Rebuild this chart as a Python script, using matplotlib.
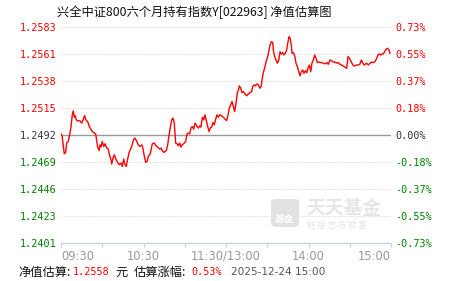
import numpy as np
import matplotlib.pyplot as plt
from matplotlib.patches import FancyBboxPatch

#%%
################################################
## DATA
################################################
base = 1.2492
# minutes after 09:30 (trading time, lunch break removed)
minutes = [
    0.0, 0.9, 1.7, 2.4, 3.4, 4.1, 5.3, 6.3, 7.3, 8.2, 8.9, 9.7, 10.4, 11.1, 12.1, 13.8,
    15.1, 16.2, 17.2, 18.0, 19.4, 20.6, 21.8, 22.8, 24.2, 25.2, 25.9, 26.7, 27.6, 28.4,
    29.1, 30.0, 31.1, 32.0, 33.2, 34.4, 35.4, 36.4, 36.9, 37.8, 38.8, 39.8, 41.2, 42.4,
    43.6, 44.6, 45.6, 46.5, 47.5, 48.5, 49.5, 50.4, 51.4, 52.9, 53.8, 55.1, 56.2, 57.5,
    58.7, 59.4, 60.4, 61.6, 62.5, 63.5, 64.9, 66.4, 67.9, 69.1, 70.3, 71.8, 72.7, 73.7,
    74.7, 75.6, 76.6, 77.6, 78.5, 79.5, 80.5, 81.5, 82.4, 83.4, 84.4, 85.3, 86.3, 87.3,
    88.2, 89.7, 90.7, 91.6, 92.6, 93.6, 94.5, 95.5, 96.5, 97.5, 98.7, 99.9, 100.9, 101.8,
    102.8, 103.8, 104.7, 105.7, 106.7, 107.6, 108.6, 109.6, 110.5, 111.5, 112.5, 113.5,
    114.4, 115.6, 116.9, 118.0, 119.3, 120.5, 121.5, 122.4, 123.4, 124.4, 125.3, 126.3,
    127.3, 128.2, 129.2, 129.7, 130.7, 131.6, 132.6, 133.8, 135.1, 136.2, 137.5, 138.7,
    139.4, 140.4, 141.3, 142.3, 143.5, 144.7, 145.7, 146.2, 147.1, 148.1, 149.1, 150.0,
    151.1, 152.0, 153.0, 154.0, 154.4, 155.4, 156.4, 157.3, 158.3, 159.3, 160.2, 161.2,
    162.2, 163.1, 164.1, 165.1, 165.8, 166.5, 167.5, 168.0, 169.0, 170.0, 170.9, 171.9,
    172.9, 173.8, 174.8, 175.8, 176.7, 177.7, 178.7, 179.6, 180.6, 181.6, 182.5, 183.5,
    184.5, 185.5, 186.4, 187.4, 188.4, 189.6, 190.8, 192.0, 193.2, 194.4, 195.6, 196.9,
    198.0, 199.3, 200.5, 201.7, 202.9, 204.1, 205.3, 206.5, 207.8, 208.7, 209.7, 210.7,
    211.6, 212.6, 213.8, 215.0, 216.2, 217.5, 218.4, 219.4, 220.4, 221.3, 222.3, 223.5,
    224.7, 226.0, 227.1, 228.4, 229.6, 230.5, 231.5, 232.5, 233.5, 234.4, 235.4, 236.4,
    237.3, 238.3, 239.3,
]
nav = [
    1.24931, 1.24908, 1.24824, 1.24763, 1.24774, 1.24853, 1.24866, 1.24923, 1.24992, 1.25091,
    1.25124, 1.25071, 1.25082, 1.25049, 1.25040, 1.25040, 1.25021, 1.25055, 1.25085, 1.25049,
    1.25034, 1.24992, 1.24970, 1.24950, 1.24937, 1.24931, 1.24880, 1.24819, 1.24790, 1.24838,
    1.24819, 1.24866, 1.24824, 1.24847, 1.24811, 1.24802, 1.24746, 1.24712, 1.24676, 1.24727,
    1.24754, 1.24718, 1.24690, 1.24670, 1.24685, 1.24656, 1.24718, 1.24670, 1.24656, 1.24718,
    1.24774, 1.24796, 1.24824, 1.24886, 1.24895, 1.24866, 1.24838, 1.24824, 1.24838, 1.24819,
    1.24754, 1.24690, 1.24698, 1.24740, 1.24763, 1.24847, 1.24853, 1.24830, 1.24819, 1.24802,
    1.24811, 1.24790, 1.24774, 1.24782, 1.24790, 1.24838, 1.24914, 1.24979, 1.25049, 1.25063,
    1.25021, 1.24853, 1.24847, 1.24830, 1.24853, 1.24819, 1.24838, 1.24853, 1.24866, 1.24931,
    1.24937, 1.24931, 1.24979, 1.24992, 1.24970, 1.25021, 1.24998, 1.24979, 1.24998, 1.24987,
    1.25071, 1.25049, 1.25091, 1.25043, 1.24992, 1.24950, 1.24979, 1.24987, 1.25026, 1.25007,
    1.25055, 1.25091, 1.25071, 1.25091, 1.25082, 1.25071, 1.25055, 1.25043, 1.25091, 1.25147,
    1.25175, 1.25203, 1.25161, 1.25118, 1.25189, 1.25273, 1.25307, 1.25335, 1.25315, 1.25278,
    1.25287, 1.25267, 1.25251, 1.25267, 1.25278, 1.25287, 1.25329, 1.25343, 1.25335, 1.25351,
    1.25343, 1.25315, 1.25335, 1.25385, 1.25446, 1.25483, 1.25539, 1.25568, 1.25623, 1.25679,
    1.25707, 1.25699, 1.25637, 1.25581, 1.25553, 1.25526, 1.25547, 1.25623, 1.25604, 1.25615,
    1.25595, 1.25610, 1.25637, 1.25707, 1.25749, 1.25744, 1.25679, 1.25610, 1.25615, 1.25587,
    1.25526, 1.25497, 1.25455, 1.25419, 1.25455, 1.25469, 1.25441, 1.25463, 1.25446, 1.25483,
    1.25511, 1.25455, 1.25526, 1.25553, 1.25595, 1.25568, 1.25531, 1.25536, 1.25534, 1.25531,
    1.25526, 1.25520, 1.25531, 1.25517, 1.25553, 1.25545, 1.25536, 1.25534, 1.25526, 1.25531,
    1.25517, 1.25509, 1.25503, 1.25492, 1.25483, 1.25581, 1.25568, 1.25547, 1.25526, 1.25505,
    1.25503, 1.25511, 1.25511, 1.25520, 1.25553, 1.25531, 1.25511, 1.25517, 1.25526, 1.25511,
    1.25526, 1.25536, 1.25531, 1.25539, 1.25568, 1.25595, 1.25604, 1.25595, 1.25604, 1.25604,
    1.25623, 1.25643, 1.25652, 1.25643, 1.25610,
]

left_labels = ["1.2401", "1.2423", "1.2446", "1.2469", "1.2492",
               "1.2515", "1.2538", "1.2561", "1.2583"]
right_labels = ["-0.73%", "-0.55%", "-0.37%", "-0.18%", "0.00%",
                "0.18%", "0.37%", "0.55%", "0.73%"]
x_ticks = [0, 30, 60, 90, 120, 150, 180, 210, 240]
x_labels = {0: "09:30", 60: "10:30", 120: "11:30/13:00", 180: "14:00", 240: "15:00"}

title = "兴全中证800六个月持有指数Y[022963] 净值估算图"
est_nav = "1.2558"
est_pct = "0.53%"
est_time = "2025-12-24 15:00"

#%%
################################################
## PLOT
################################################
cjk = ["Noto Sans CJK SC", "DejaVu Sans"]
RED = "#ff0000"
GREEN = "#008000"
DARK = "#333333"

W, H = 451, 281
fig = plt.figure(figsize=(W / 100, H / 100), dpi=100)
fig.patch.set_facecolor("white")
ax = fig.add_axes([61 / W, (H - 243.3) / H, 330 / W, (243.3 - 26.9) / H])

ymin, ymax = base * (1 - 0.0073), base * (1 + 0.0073)
yt = np.linspace(ymin, ymax, 9)

# watermark (behind everything)
fig.patches.append(FancyBboxPatch((271 / W, (H - 227) / H), 28 / W, 28 / H,
                                  boxstyle="round,pad=0,rounding_size=0.012",
                                  transform=fig.transFigure, fc="#e2e2e2", ec="none", zorder=0))
fig.text(285 / W, (H - 219) / H, "基金", family=cjk, fontsize=7, color="white",
         ha="center", va="center", weight="bold", zorder=1)
fig.text(306 / W, (H - 208) / H, "天天基金", family=cjk, fontsize=13.5, color="#e6e6e6",
         ha="left", va="center", weight="bold", zorder=0)
fig.text(307 / W, (H - 225) / H, "链 接 您 与 财 富", family=cjk, fontsize=6, color="#e3e3e3",
         ha="left", va="center", zorder=0)
ax.set_facecolor("none")

for v in yt:
    if abs(v - base) > 1e-6:
        ax.axhline(v, color="#dddddd", lw=0.8, ls=(0, (1, 1)), zorder=1)
ax.axhline(base, color="#999999", lw=1.0, zorder=2)

ax.plot(minutes, nav, color=RED, lw=1.0, zorder=3)

ax.set_xlim(0, 240)
ax.set_ylim(ymin, ymax)

for s in ["top", "left", "right"]:
    ax.spines[s].set_visible(False)
ax.spines["bottom"].set_color("#c6d2de")
ax.spines["bottom"].set_linewidth(1.0)

ax.set_xticks(x_ticks)
ax.set_xticklabels([""] * len(x_ticks))
ax.tick_params(axis="x", direction="out", length=3, width=0.8, color="#c6d2de")
for m, lab in x_labels.items():
    ha = "left" if m == 0 else ("right" if m == 240 else "center")
    ax.text(m, -0.03, lab, transform=ax.get_xaxis_transform(), ha=ha, va="top",
            fontsize=8.3, color="#999999", family="DejaVu Sans")

ax.set_yticks(yt)
ax.set_yticklabels(left_labels, family="DejaVu Sans Mono", fontsize=7.3)
ax.tick_params(axis="y", length=0, pad=3)
for i, t in enumerate(ax.get_yticklabels()):
    t.set_color(GREEN if i < 4 else (DARK if i == 4 else RED))

ax2 = ax.twinx()
ax2.set_ylim(ymin, ymax)
ax2.set_yticks(yt)
ax2.set_yticklabels(right_labels, family="DejaVu Sans Mono", fontsize=7.3)
ax2.tick_params(axis="y", length=0, pad=3)
for s in ["top", "left", "right", "bottom"]:
    ax2.spines[s].set_visible(False)
for i, t in enumerate(ax2.get_yticklabels()):
    t.set_color(GREEN if i < 4 else (DARK if i == 4 else RED))

fig.text(57 / W, (H - 12) / H, title, family=cjk, fontsize=8.8, color="#111111",
         ha="left", va="center")

yb = (H - 272) / H
fig.text(18 / W, yb, "净值估算:", family=cjk, fontsize=8.8, color="#111111", va="center")
fig.text(73 / W, yb, est_nav, family="DejaVu Sans Mono", fontsize=7.3, color=RED, va="center")
fig.text(115 / W, yb, "元", family=cjk, fontsize=8.8, color="#111111", va="center")
fig.text(134 / W, yb, "估算涨幅:", family=cjk, fontsize=8.8, color="#111111", va="center")
fig.text(191 / W, yb, est_pct, family="DejaVu Sans Mono", fontsize=7.3, color=RED, va="center")
fig.text(231 / W, yb, est_time, family="DejaVu Sans", fontsize=7.6, color="#555555", va="center")

fig.savefig("out.png", dpi=100)
